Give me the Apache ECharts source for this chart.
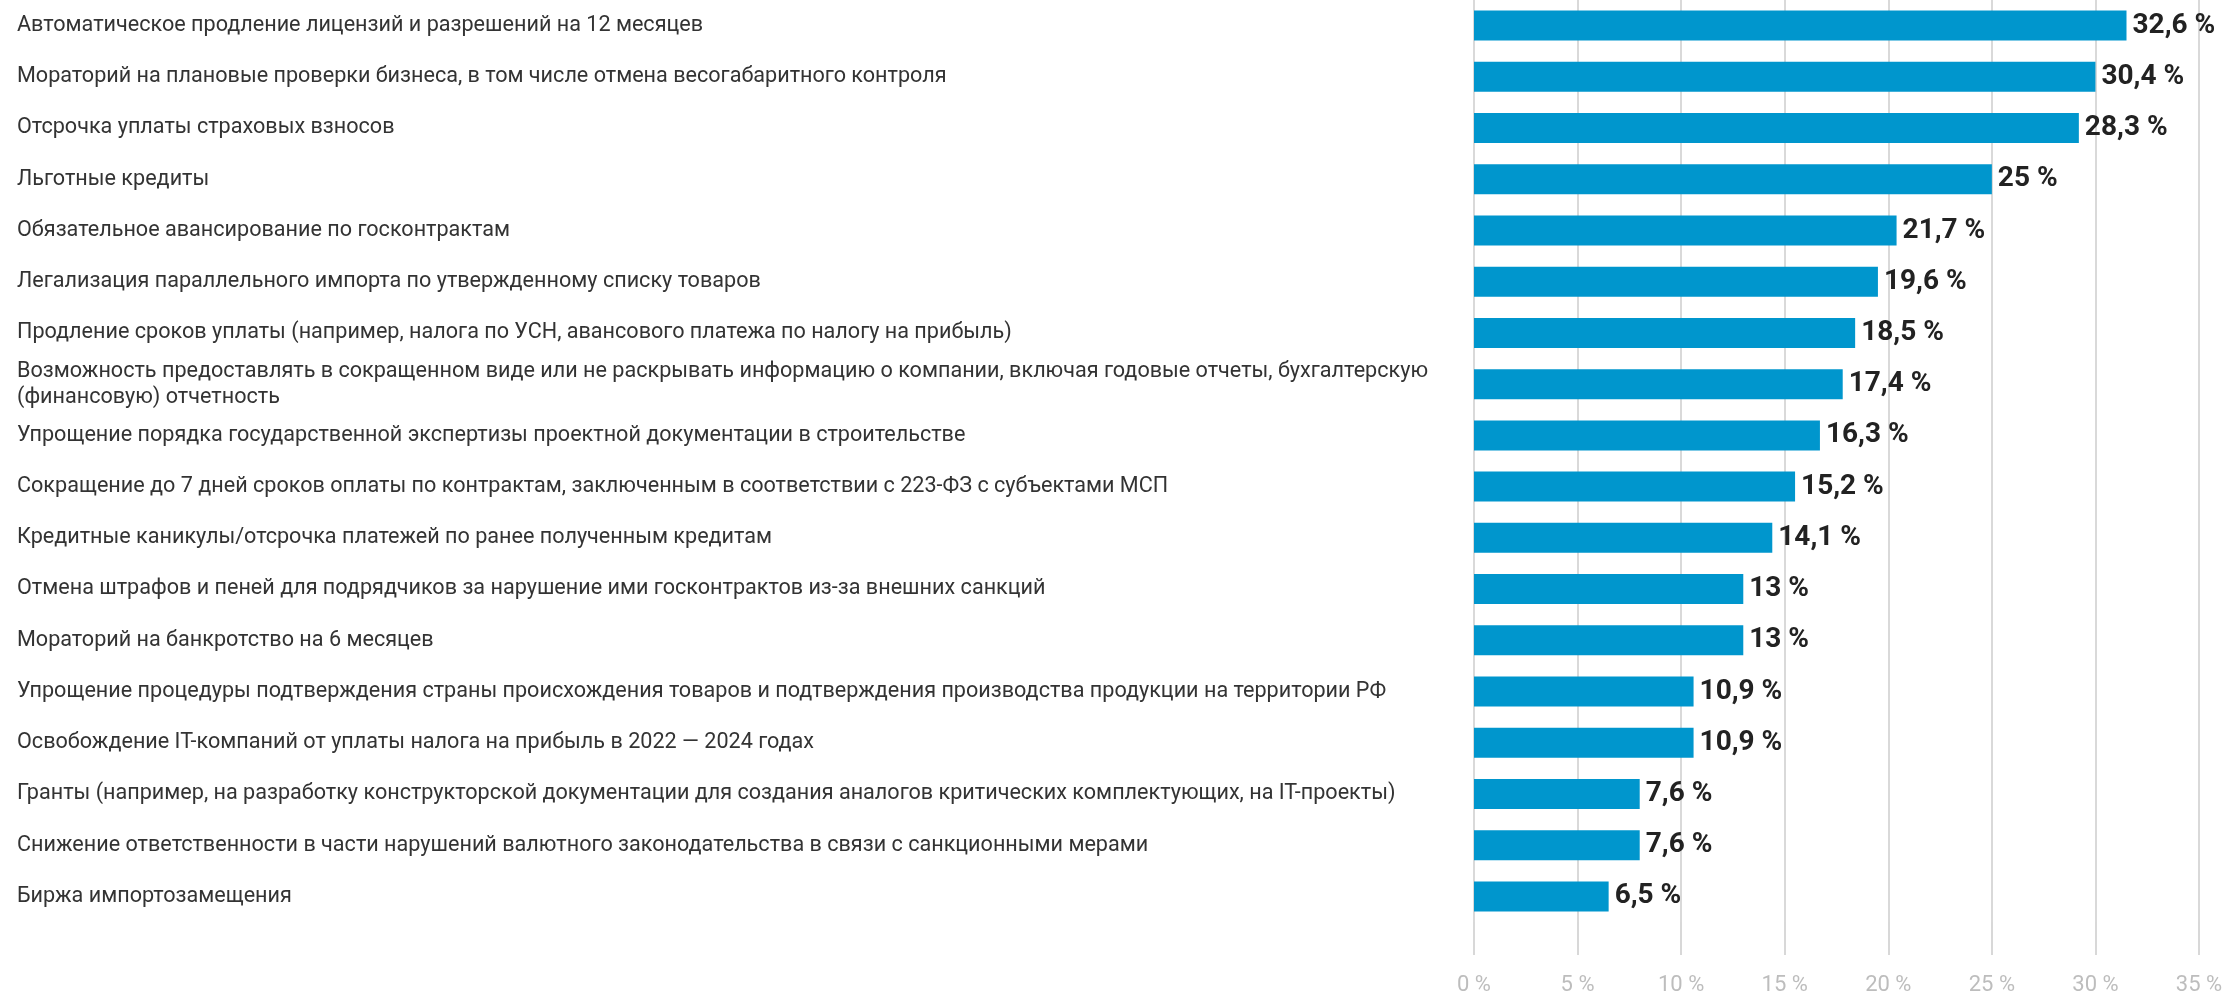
<!DOCTYPE html>
<html>
<head>
    <meta charset="utf-8">
    <title>Меры поддержки</title>
    <script src="https://cdn.jsdelivr.net/npm/echarts@6/dist/echarts.min.js" type="text/javascript"></script>
    <style>
        html,body{margin:0;padding:0;background:#fff;}
        #main{width:2234px;height:1000px;}
    </style>
</head>
<body>
<div id="main"></div>
<script type="text/javascript">

var categories = [
    "Автоматическое продление лицензий и разрешений на 12 месяцев",
    "Мораторий на плановые проверки бизнеса, в том числе отмена весогабаритного контроля",
    "Отсрочка уплаты страховых взносов",
    "Льготные кредиты",
    "Обязательное авансирование по госконтрактам",
    "Легализация параллельного импорта по утвержденному списку товаров",
    "Продление сроков уплаты (например, налога по УСН, авансового платежа по налогу на прибыль)",
    "Возможность предоставлять в сокращенном виде или не раскрывать информацию о компании, включая годовые отчеты, бухгалтерскую\n(финансовую) отчетность",
    "Упрощение порядка государственной экспертизы проектной документации в строительстве",
    "Сокращение до 7 дней сроков оплаты по контрактам, заключенным в соответствии с 223-ФЗ с субъектами МСП",
    "Кредитные каникулы/отсрочка платежей по ранее полученным кредитам",
    "Отмена штрафов и пеней для подрядчиков за нарушение ими госконтрактов из-за внешних санкций",
    "Мораторий на банкротство на 6 месяцев",
    "Упрощение процедуры подтверждения страны происхождения товаров и подтверждения производства продукции на территории РФ",
    "Освобождение IT-компаний от уплаты налога на прибыль в 2022 — 2024 годах",
    "Гранты (например, на разработку конструкторской документации для создания аналогов критических комплектующих, на IT-проекты)",
    "Снижение ответственности в части нарушений валютного законодательства в связи с санкционными мерами",
    "Биржа импортозамещения"
];

// printed values (labels)
var labelValues = [32.6, 30.4, 28.3, 25, 21.7, 19.6, 18.5, 17.4, 16.3, 15.2, 14.1, 13, 13, 10.9, 10.9, 7.6, 7.6, 6.5];
// bar lengths as drawn in the picture (they don't quite match the printed labels)
var barLengths = [31.5, 30.0, 29.2, 25.0, 20.4, 19.5, 18.4, 17.8, 16.7, 15.5, 14.4, 13.0, 13.0, 10.6, 10.6, 8.0, 8.0, 6.5];

var axisMin = 0;
var axisMax = 35;
var axisStep = 5;

function pct(v){
    return String(v).replace('.', ',') + ' %';
}

var myChart = echarts.init(document.getElementById('main'));
var option = {
    animation: false,
    grid: {
        left: 1474,
        right: 35,
        top: 0,
        height: 922
    },
    xAxis: {
        type: 'value',
        min: axisMin,
        max: axisMax,
        interval: axisStep,
        axisLine: {show: false},
        axisTick: {
            show: true,
            length: 33,
            lineStyle: {color: '#cccccc', width: 1.5}
        },
        splitLine: {
            show: true,
            lineStyle: {color: '#cccccc', width: 1.5}
        },
        axisLabel: {
            margin: 52,
            color: '#bdbdbd',
            fontFamily: 'Roboto',
            fontSize: 22,
            formatter: function(v){ return v + ' %'; }
        }
    },
    yAxis: {
        type: 'category',
        data: categories,
        inverse: true,
        axisLine: {show: false},
        axisTick: {show: false},
        splitLine: {show: false},
        axisLabel: {
            align: 'left',
            margin: 1457,
            color: '#333333',
            fontFamily: 'Roboto',
            fontSize: 21.6,
            lineHeight: 26
        }
    },
    series: [{
        type: 'bar',
        data: barLengths,
        barWidth: 30,
        itemStyle: {color: '#0096cd'},
        label: {
            show: true,
            position: 'right',
            distance: 6,
            color: '#222222',
            fontFamily: 'Roboto',
            fontWeight: 'bold',
            fontSize: 28,
            formatter: function(p){ return pct(labelValues[p.dataIndex]); }
        }
    }]
};
myChart.setOption(option);
</script>
</body>
</html>
